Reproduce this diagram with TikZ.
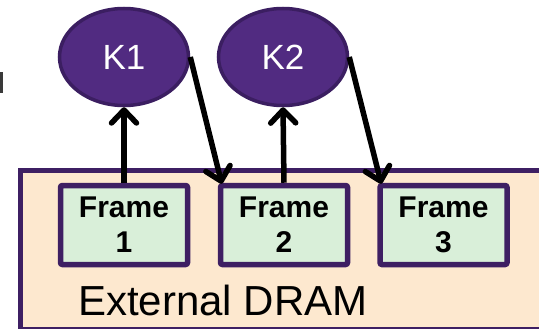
\documentclass[tikz,border=0pt]{standalone}
\usepackage{fontspec}
\setmainfont{Liberation Sans}
\usetikzlibrary{shapes.geometric,arrows.meta}
\definecolor{keyfill}{HTML}{512B81}
\definecolor{keyedge}{HTML}{3B1E61}
\definecolor{dramfill}{HTML}{FDE8CF}
\definecolor{frameedge}{HTML}{3E1F63}
\definecolor{framefill}{HTML}{D9EFD9}
\definecolor{stub}{HTML}{3A3A3A}
\tikzset{
  keynode/.style={ellipse, draw=keyedge, fill=keyfill, line width=3.5pt,
    minimum width=129pt, minimum height=97pt, inner sep=0pt,
    text=white, font=\fontsize{35}{40}\selectfont},
  framebox/.style={rectangle, rounded corners=2pt, draw=frameedge, fill=framefill,
    line width=5.5pt, minimum width=127pt, minimum height=79pt, inner sep=0pt,
    align=center, font=\bfseries\fontsize{30}{35}\selectfont},
  drambox/.style={rectangle, draw=frameedge, fill=dramfill, line width=4.5pt,
    inner sep=0pt},
  flow/.style={line width=5.5pt, -{Straight Barb[length=13pt,width=25pt,line cap=round,line join=round]}}
}
\begin{document}
\begin{tikzpicture}[x=1pt,y=-1pt]
\useasboundingbox (0,0) rectangle (539,329);
\clip (0,0) rectangle (539,329);
% memory area
\node[drambox, minimum width=542pt, minimum height=159pt, anchor=north west] (dram) at (18,168) {};
\node[anchor=base west, inner sep=0pt, font=\fontsize{42}{48}\selectfont] (lbl) at (78,315) {External DRAM};
% frames
\node[framebox] (f1) at (124,225) {Frame\\1};
\node[framebox] (f2) at (284,225) {Frame\\2};
\node[framebox] (f3) at (443.5,225) {Frame\\3};
% keys
\node[keynode] (k1) at (124,57) {K1};
\node[keynode] (k2) at (283,57) {K2};
% connectors
\draw[flow] (f1.north) -- (k1.south);
\draw[flow] (f2.north) -- (k2.south);
\draw[flow] (k1.east) -- ([xshift=4pt,yshift=-1pt]f2.north west);
\draw[flow] (k2.east) -- ([xshift=4pt,yshift=-1pt]f3.north west);
% cut-off mark at the left edge
\fill[stub] (0,72) rectangle (3,93);
\end{tikzpicture}
\end{document}
